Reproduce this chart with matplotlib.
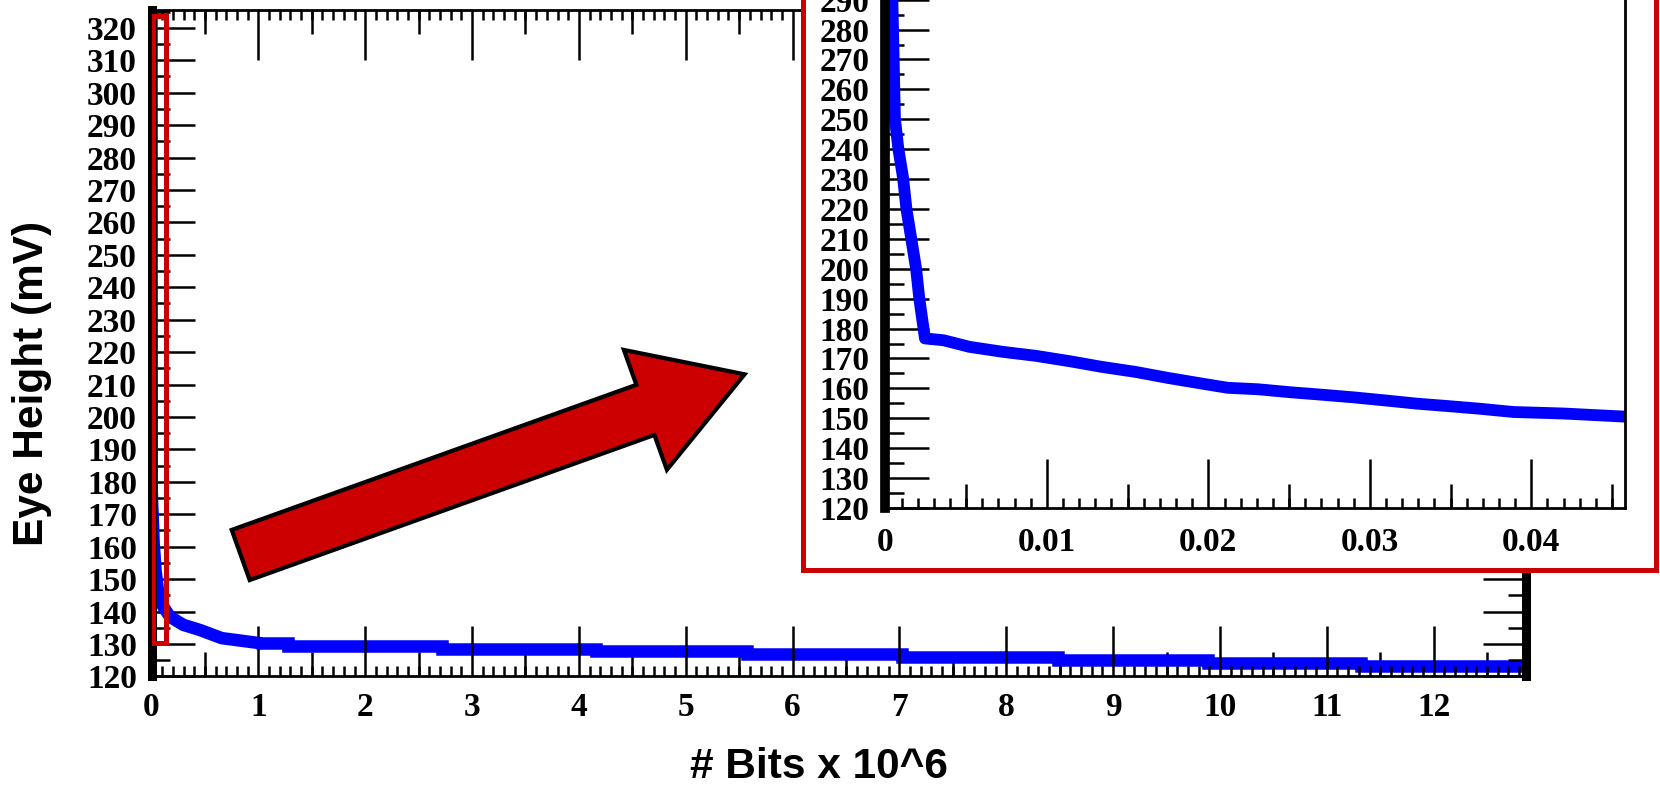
import numpy as np
import matplotlib.pyplot as plt
from matplotlib.patches import Rectangle, FancyArrow
from matplotlib.ticker import MultipleLocator

plt.rcParams['font.family'] = 'Liberation Serif'
plt.rcParams['font.weight'] = 'bold'

# Curva medida: bits (x 10^6) contra altura del ojo (mV)
bits = [0.0, 0.00043, 0.00059, 0.0008, 0.0011, 0.0013, 0.0016, 0.0019, 0.0021,
        0.00245, 0.0036, 0.0052, 0.0073, 0.0093, 0.0114, 0.0134, 0.0155, 0.0175,
        0.0196, 0.0212, 0.0231, 0.0251, 0.0270, 0.0290, 0.0309, 0.0329, 0.0348,
        0.0368, 0.0389, 0.0420, 0.0449, 0.064, 0.11, 0.173, 0.297, 0.454, 0.657, 0.98]
eye_mv = [324, 290.4, 250.2, 240.2, 230.2, 220.1, 210.1, 200.1, 190.0,
          176.7, 176.1, 173.9, 172.2, 170.9, 169.1, 167.2, 165.5, 163.5,
          161.6, 160.2, 159.7, 158.7, 157.9, 157.0, 156.0, 154.9, 154.1,
          153.2, 152.1, 151.6, 150.8, 145.6, 141.5, 138.4, 135.9, 134.3, 131.8, 130.4]

# Tramo final escalonado
step_edges = [0.98, 1.28, 2.72, 4.16, 5.57, 7.02, 8.48, 9.89, 11.32, 12.86]
step_mv = [130.4, 129.4, 128.5, 127.7, 126.9, 126.0, 125.1, 124.1, 123.2]

# Ejes
main_xticks = list(range(0, 13))
main_yticks = list(range(120, 330, 10))
zoom_yticks = list(range(120, 300, 10))
zoom_xticks = [0, 0.01, 0.02, 0.03, 0.04]
zoom_xlabels = ['0', '0.01', '0.02', '0.03', '0.04']

# Zona ampliada marcada en la grafica principal (x0, y0, ancho, alto)
zoom_box = (0.01, 130.3, 0.13, 193.3)

BLUE = '#0000ff'
RED = '#cc0000'

fig = plt.figure(figsize=(16.6, 7.87), dpi=100)

# Grafica principal
ax = fig.add_axes([151.5 / 1660, 1 - 676.4 / 787, 1374 / 1660, 666.4 / 787], zorder=1)
ax.plot(bits, eye_mv, color=BLUE, lw=9)
ax.stairs(step_mv, step_edges, baseline=None, color=BLUE, lw=9)
ax.add_patch(Rectangle(zoom_box[:2], zoom_box[2], zoom_box[3], fill=False,
                       ec=RED, lw=3.6, zorder=5))

ax.set_xlim(0, 12.86)
ax.set_ylim(120, 325.5)
ax.set_xticks(main_xticks)
ax.set_yticks(main_yticks)
ax.xaxis.set_minor_locator(MultipleLocator(0.1))
ax.yaxis.set_minor_locator(MultipleLocator(5))
ax.tick_params(which='both', direction='in', top=True, right=True, width=1.8, labelsize=24)
ax.tick_params(axis='x', which='major', length=36, pad=11)
ax.tick_params(axis='x', which='minor', length=7)
ax.tick_params(axis='y', which='major', length=31, pad=10.5)
ax.tick_params(axis='y', which='minor', length=13)
ax.spines[['left', 'right']].set_linewidth(6.5)
ax.spines[['top', 'bottom']].set_linewidth(2)

# marcas intermedias (medios)
for side in ('bottom', 'top'):
    sec = ax.secondary_xaxis(side)
    sec.set_ticks(np.arange(0.5, 13, 1.0))
    sec.tick_params(direction='in', length=17, width=1.8, labelbottom=False, labeltop=False)
    sec.spines[side].set_visible(False)

# Recuadro rojo del zoom
fig.add_artist(Rectangle((8.03, 2.17), 8.53, 7.0, transform=fig.dpi_scale_trans,
                         fc='white', ec=RED, lw=3.6, zorder=2))

# Grafica ampliada
ax_in = fig.add_axes([885.4 / 1660, 1 - 508 / 787, 739.6 / 1660, 613 / 787], zorder=3)
ax_in.plot(bits, eye_mv, color=BLUE, lw=8.5)
ax_in.set_xlim(0, 0.0458)
ax_in.set_ylim(120, 325)
ax_in.set_xticks(zoom_xticks, labels=zoom_xlabels)
ax_in.set_yticks(zoom_yticks)
ax_in.xaxis.set_minor_locator(MultipleLocator(0.001))
ax_in.yaxis.set_minor_locator(MultipleLocator(5))
ax_in.tick_params(which='both', direction='in', width=1.8, labelsize=24)
ax_in.tick_params(axis='x', which='major', length=35, pad=14)
ax_in.tick_params(axis='x', which='minor', length=7)
ax_in.tick_params(axis='y', which='major', length=32, pad=11.7)
ax_in.tick_params(axis='y', which='minor', length=14)
ax_in.spines['left'].set_linewidth(7)
ax_in.spines[['top', 'bottom', 'right']].set_linewidth(2)
sec_in = ax_in.secondary_xaxis('bottom')
sec_in.set_ticks(np.arange(0.005, 0.046, 0.01))
sec_in.tick_params(direction='in', length=17, width=1.8, labelbottom=False)
sec_in.spines['bottom'].set_visible(False)

# Flecha
fig.add_artist(FancyArrow(2.407, 2.32, 5.039, 1.807, width=0.533, head_width=1.274,
                          head_length=1.054, length_includes_head=True,
                          transform=fig.dpi_scale_trans, fc=RED, ec='black', lw=3, zorder=4))

# Titulos de ejes
fig.text(32 / 1660, 1 - 383.5 / 787, 'Eye Height (mV)', rotation=90, ha='center', va='center',
         family='Liberation Sans', weight='bold', size=30.5)
fig.text(819 / 1660, 1 - 767.5 / 787, '# Bits x 10^6', ha='center', va='center',
         family='Liberation Sans', weight='bold', size=30.5)

fig.savefig('out.png', dpi=100)
